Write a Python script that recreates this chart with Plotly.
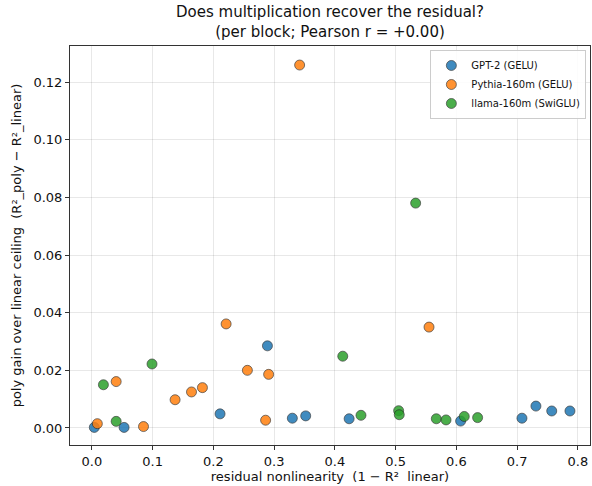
import plotly.graph_objects as go

series_names = ["GPT-2 (GELU)", "Pythia-160m (GELU)", "llama-160m (SwiGLU)"]
colors = ["#1f77b4", "#ff7f0e", "#2ca02c"]

gpt2_x = [0.004, 0.053, 0.211, 0.289, 0.330, 0.352, 0.4235, 0.607, 0.708, 0.731, 0.757, 0.787]
gpt2_y = [0.0002, 0.0002, 0.0049, 0.0285, 0.0034, 0.0042, 0.0032, 0.0024, 0.0034, 0.0076, 0.0059, 0.0059]

pythia_x = [0.009, 0.040, 0.085, 0.137, 0.164, 0.182, 0.221, 0.256, 0.291, 0.286, 0.342, 0.555]
pythia_y = [0.0015, 0.0161, 0.0005, 0.0098, 0.0125, 0.0140, 0.0361, 0.0200, 0.0186, 0.0027, 0.1259, 0.0350]

llama_x = [0.019, 0.040, 0.099, 0.413, 0.533, 0.443, 0.505, 0.506, 0.567, 0.583, 0.613, 0.635]
llama_y = [0.0150, 0.0023, 0.0222, 0.0249, 0.0780, 0.0044, 0.0060, 0.0046, 0.0032, 0.0028, 0.0040, 0.0036]

x_ticks = [0.0, 0.1, 0.2, 0.3, 0.4, 0.5, 0.6, 0.7, 0.8]
y_ticks = [0.00, 0.02, 0.04, 0.06, 0.08, 0.10, 0.12]

FONT = "DejaVu Sans"
fig = go.Figure()
for name, col, xs, ys in zip(series_names, colors,
                             [gpt2_x, pythia_x, llama_x],
                             [gpt2_y, pythia_y, llama_y]):
    fig.add_trace(go.Scatter(
        x=xs, y=ys, mode="markers", name=name,
        marker=dict(size=10, color=col, opacity=0.85,
                    line=dict(color="#222222", width=0.7)),
    ))

axis_common = dict(
    showline=True, linecolor="#333333", linewidth=1, mirror=True,
    ticks="outside", ticklen=4, tickcolor="#333333",
    showgrid=True, gridcolor="rgba(0,0,0,0.09)", gridwidth=1,
    zeroline=False, tickfont=dict(family=FONT, size=13, color="#111111"),
)

fig.update_layout(
    width=592, height=486,
    margin=dict(l=70, r=2, t=46, b=41),
    paper_bgcolor="white", plot_bgcolor="white",
    font=dict(family=FONT, color="#111111"),
    xaxis=dict(
        range=[-0.036, 0.82], tickvals=x_ticks, tickformat=".1f",
        title=dict(text="residual nonlinearity  (1 − R²  linear)",
                   font=dict(family=FONT, size=13), standoff=4),
        **axis_common,
    ),
    yaxis=dict(
        range=[-0.0059, 0.1325], tickvals=y_ticks, tickformat=".2f",
        title=dict(text="poly gain over linear ceiling  (R²_poly − R²_linear)",
                   font=dict(family=FONT, size=13), standoff=8),
        **axis_common,
    ),
    legend=dict(
        x=0.993, xanchor="right", y=0.99, yanchor="top",
        bgcolor="rgba(255,255,255,0.85)", bordercolor="#cccccc", borderwidth=1,
        font=dict(family=FONT, size=10), itemsizing="trace",
        tracegroupgap=0,
    ),
    showlegend=True,
    annotations=[dict(
        text="Does multiplication recover the residual?<br>(per block; Pearson r = +0.00)",
        xref="paper", yref="paper", x=0.5, y=1, xanchor="center", yanchor="bottom",
        yshift=3, showarrow=False, align="center",
        font=dict(family=FONT, size=15, color="#111111"),
    )],
)

fig.write_html("out.html")
